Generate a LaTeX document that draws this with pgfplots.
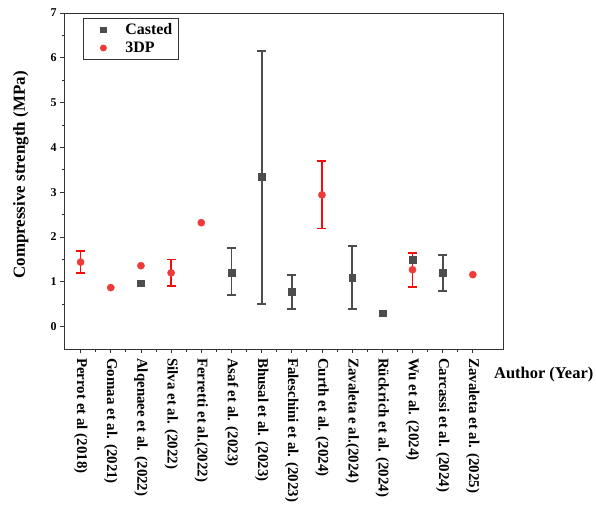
\documentclass[border=0pt]{standalone}
\usepackage{fontspec}
\setmainfont{Liberation Serif}
\usepackage{pgfplots}
\pgfplotsset{compat=1.18}
\definecolor{cgrey}{RGB}{77,77,77}
\definecolor{cred}{RGB}{240,58,58}
\definecolor{cbar}{RGB}{250,10,10}
\pgfplotsset{wideimg/.style={legend image code/.code={%
    \path[draw=none, fill=none] (0bp,-3bp) rectangle (36bp,3bp);
    \draw[##1] plot coordinates {(16bp,0bp)};}}}
\begin{document}
\begin{tikzpicture}
\path[use as bounding box] (0,0) rectangle (596bp,-518bp);
\begin{axis}[
  at={(64bp,-349bp)}, anchor=south west,
  width=439bp, height=336bp, scale only axis,
  xmin=0.45, xmax=15, ymin=-0.5, ymax=7,
  xtick={1,...,14}, minor x tick num=1,
  xticklabels={Perrot et al (2018), Gomaa et al. (2021), Alqenaee et al. (2022),
    Silva et al. (2022), Ferretti et al.(2022), Asaf et al. (2023), Bhusal et al. (2023),
    Faleschini et al. (2023), Curth et al. (2024), Zavaleta e al.(2024),
    Rückrich et al. (2024), Wu et al. (2024), Carcassi et al. (2024), Zavaleta et al. (2025)},
  ytick={0,...,7}, yticklabels={0,1,2,3,4,5,6,7}, minor y tick num=1,
  tick align=outside, tick pos=left,
  major tick length=4bp, minor tick length=2.5bp,
  axis line style={line width=1bp, black!80},
  every tick/.style={black!80, line width=0.8bp},
  xticklabel shift=5bp,
  xticklabel style={rotate=-90, anchor=west, inner sep=0pt,
    font=\fontsize{15}{16}\selectfont\bfseries},
  yticklabel style={font=\fontsize{12}{13}\selectfont\bfseries},
  ylabel={Compressive strength (MPa)},
  ylabel style={at={(axis description cs:-0.098,0.518)}, anchor=center,
    font=\fontsize{17}{19}\selectfont\bfseries},
  xlabel={Author (Year)},
  xlabel style={at={(axis description cs:0.9795,-0.077)}, anchor=west, inner sep=0pt,
    font=\fontsize{16.5}{18}\selectfont\bfseries},
  legend style={at={(axis description cs:0.0433,0.985)}, anchor=north west,
    draw=black!80, line width=0.8bp, font=\fontsize{16}{18}\selectfont\bfseries,
    row sep=2bp, inner xsep=4bp, inner ysep=3bp},
  legend cell align=left,
]
\addlegendimage{only marks, wideimg, mark=square*, mark size=2.6bp, cgrey}
\addlegendentry{Casted\hspace{14bp}}
\addlegendimage{only marks, wideimg, mark=*, mark size=3bp, cred}
\addlegendentry{3DP}

% Casted with error bars
\addplot[forget plot, only marks, mark=square*, mark size=3.4bp, cgrey,
  error bars/.cd, y dir=both, y explicit,
  error bar style={line width=1.8bp, cgrey},
  error mark options={rotate=90, mark size=4.5bp, line width=1.8bp, cgrey}]
  table[x=x, y=y, y error plus=ep, y error minus=em] {
x  y    ep   em
6  1.21 0.54 0.51
7  3.34 2.82 2.83
8  0.78 0.38 0.39
10 1.10 0.70 0.70
13 1.20 0.39 0.41
};
% Casted without error bars
\addplot[forget plot, only marks, mark=square*, mark size=3.4bp, cgrey]
  table[x=x, y=y] {
x  y
3  0.97
11 0.30
12 1.49
};
% 3DP with error bars
\addplot[forget plot, only marks, mark=*, mark size=3.6bp, cred,
  error bars/.cd, y dir=both, y explicit,
  error bar style={line width=1.8bp, cbar},
  error mark options={rotate=90, mark size=4.5bp, line width=1.8bp, cbar}]
  table[x=x, y=y, y error plus=ep, y error minus=em] {
x  y    ep   em
1  1.44 0.24 0.25
4  1.20 0.30 0.30
9  2.94 0.75 0.75
12 1.27 0.38 0.39
};
% 3DP without error bars
\addplot[forget plot, only marks, mark=*, mark size=3.6bp, cred]
  table[x=x, y=y] {
x  y
2  0.87
3  1.36
5  2.32
14 1.16
};
\end{axis}
\end{tikzpicture}
\end{document}
